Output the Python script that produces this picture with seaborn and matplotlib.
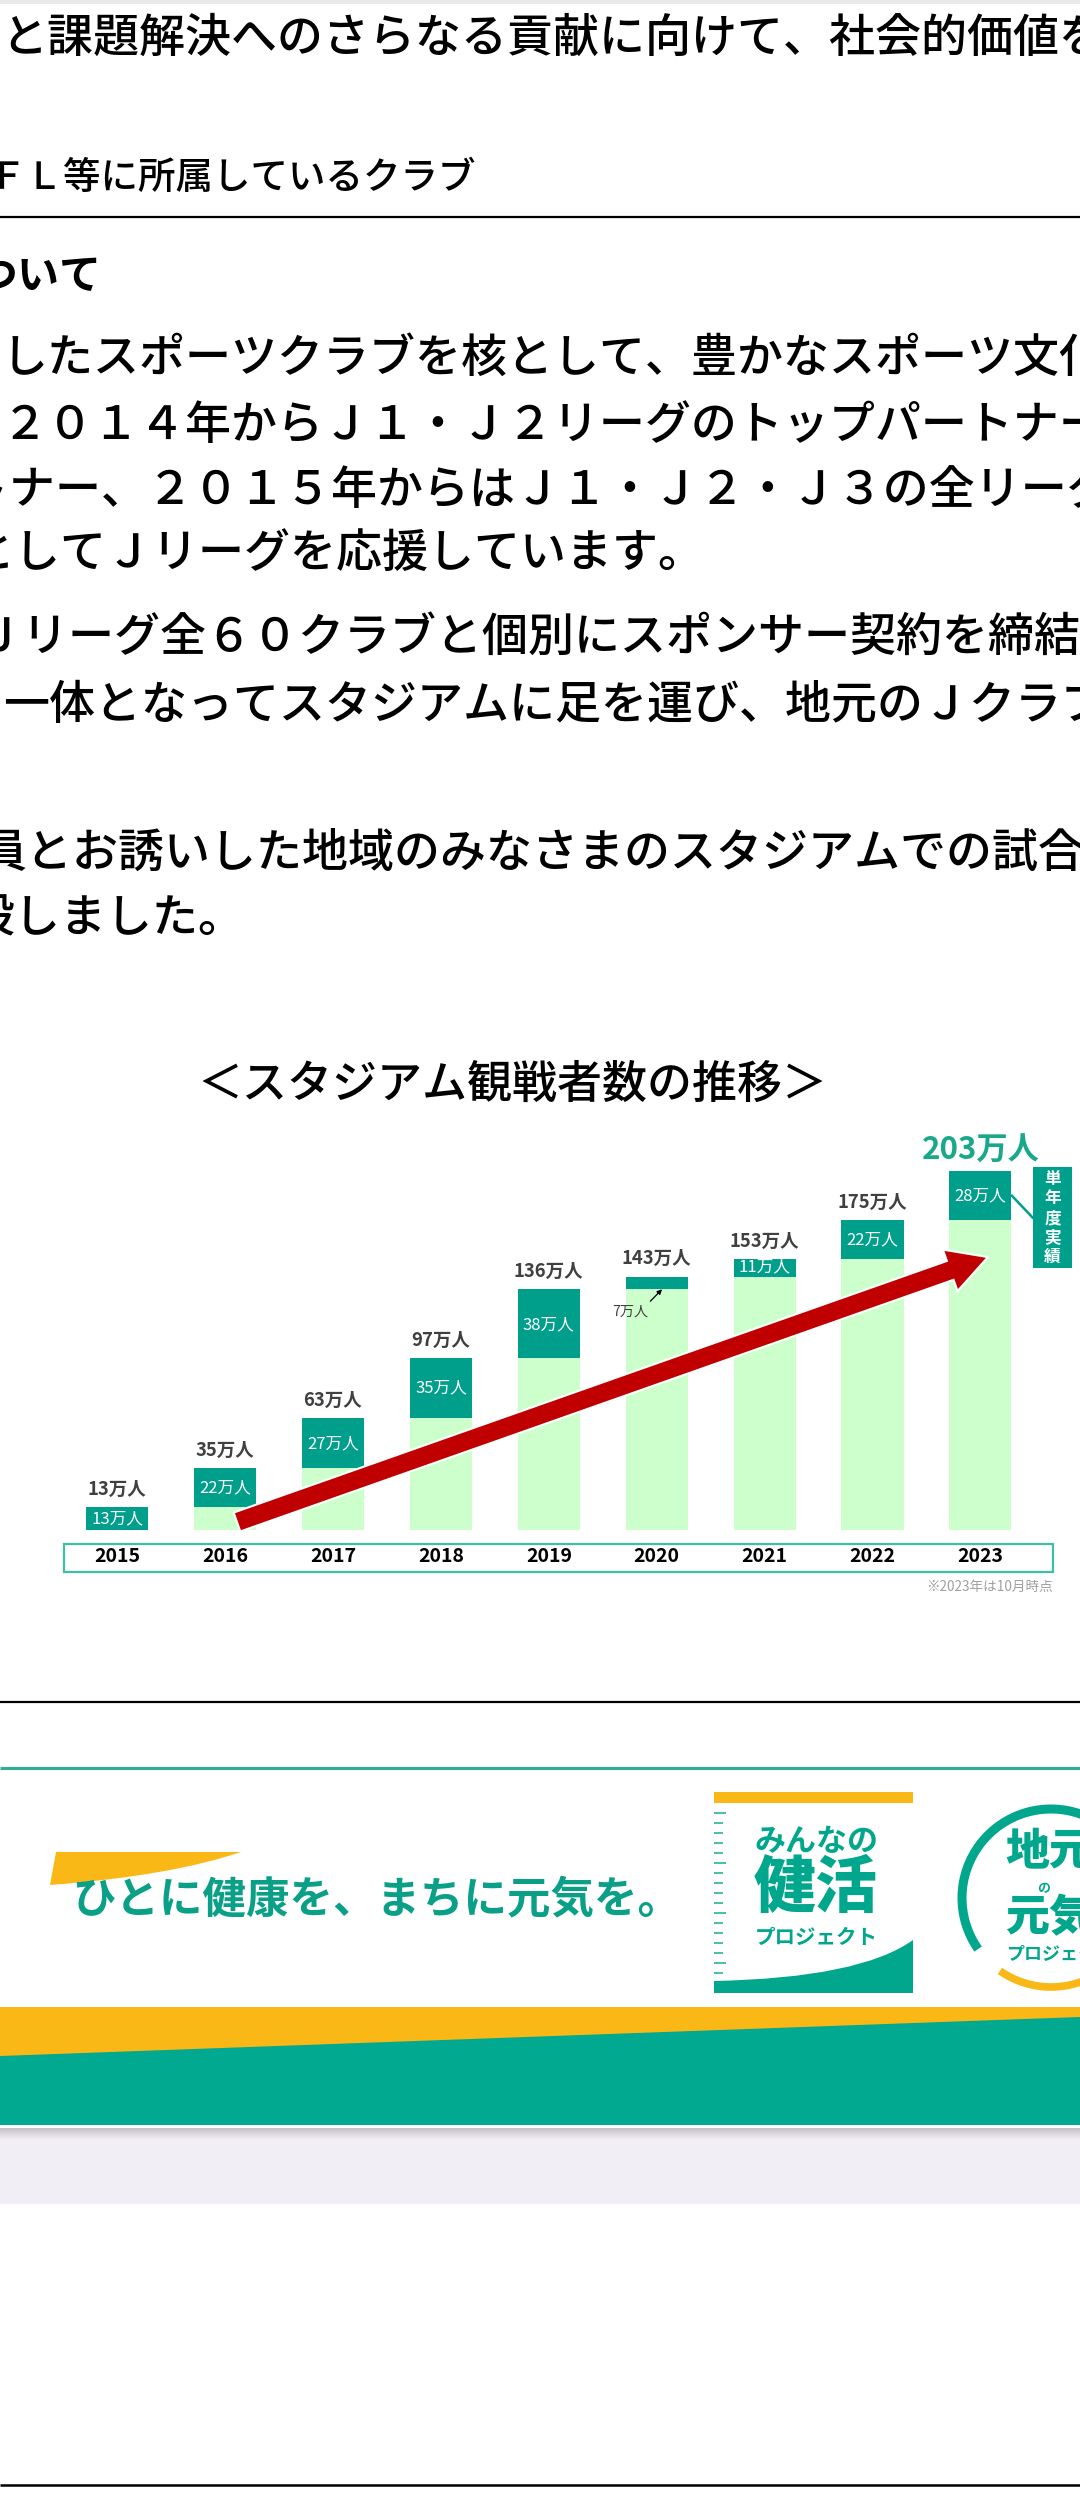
import numpy as np
import pandas as pd
import matplotlib
matplotlib.use("Agg")
import matplotlib.pyplot as plt
import seaborn as sns
from matplotlib.patches import Rectangle, FancyArrow, Arc, PathPatch, Polygon
from matplotlib.path import Path

# ---------------- data ----------------
years = ["2015", "2016", "2017", "2018", "2019", "2020", "2021", "2022", "2023"]
totals = [13, 35, 63, 97, 136, 143, 153, 175, 203]          # cumulative (万人)
increments = [13, 22, 27, 35, 38, 7, 11, 22, 28]             # single-year (万人)
previous = [0, 13, 35, 63, 97, 136, 143, 153, 175]           # cumulative up to previous year
total_labels = ["13万人", "35万人", "63万人", "97万人", "136万人", "143万人", "153万人", "175万人", "203万人"]
inner_labels = ["13万人", "22万人", "27万人", "35万人", "38万人", "", "11万人", "22万人", "28万人"]
small_label = "7万人"
chart_title = "＜スタジアム観戦者数の推移＞"
side_label = "単年度実績"
note_label = "※2023年は10月時点"

body_lines = [
    "と課題解決へのさらなる貢献に向けて、社会的価値を",
    "ＦＬ等に所属しているクラブ",
    "ついて",
    "したスポーツクラブを核として、豊かなスポーツ文化",
    "２０１４年からＪ１・Ｊ２リーグのトップパートナー",
    "パートナー、２０１５年からはＪ１・Ｊ２・Ｊ３の全リーグ",
    "としてＪリーグを応援しています。",
    "Ｊリーグ全６０クラブと個別にスポンサー契約を締結",
    "一体となってスタジアムに足を運び、地元のＪクラブ",
    "員とお誘いした地域のみなさまのスタジアムでの試合",
    "設しました。",
]
slogan = "ひとに健康を、まちに元気を。"
logo1_lines = ["みんなの", "健活", "プロジェクト"]
logo2_lines = ["地元", "の", "元気", "プロジェクト"]

# ---------------- layout (pixels) ----------------
body_x = [1, -12, -24, 2, 2, -128, -32, -24, 3, -20, -32]
body_cy = [35, 175, 274, 355, 422, 487, 550, 634, 702, 850, 915]
body_px = [46, 37.5, 42, 46, 46, 46, 46, 46, 46, 46, 46]
body_w = [500, 500, "bold"] + [500] * 8

DARK = "#009F8B"
LIGHT = "#CCFFCC"
RED = "#C00000"
TEAL = "#00A78D"
YELLOW = "#FAB816"

sns.set_theme(style="white")
plt.rcParams["font.family"] = ["Noto Sans CJK JP", "DejaVu Sans"]

W, H = 1080, 2520
fig = plt.figure(figsize=(W / 100, H / 100), dpi=100)
fig.patch.set_facecolor("white")

pg = fig.add_axes([0, 0, 1, 1])
pg.set_xlim(0, W)
pg.set_ylim(H, 0)
pg.axis("off")


def ptext(axh, x, cy, s, px, **kw):
    axh.text(x, cy + 0.37 * px, s, fontsize=px * 0.72, va="baseline", **kw)


# top faint strip
pg.add_patch(Rectangle((0, 0), W, 4, color="#EAEAEA", lw=0))

# body text
for s, x, cy, px, w in zip(body_lines, body_x, body_cy, body_px, body_w):
    ptext(pg, x, cy, s, px, ha="left", color="black", fontweight=w)

# rules
pg.plot([0, W], [217, 217], color="black", lw=1.6, solid_capstyle="butt")
pg.plot([0, W], [1702, 1702], color="black", lw=1.6, solid_capstyle="butt")
pg.plot([0, W], [2485, 2485], color="black", lw=1.8, solid_capstyle="butt")

# chart title
ptext(pg, 512, 1081, chart_title, 45, ha="center", color="black", fontweight=500)

# year strip box
pg.add_patch(Rectangle((64, 1544), 989, 28, fc="white", ec="#3DBFA5", lw=1.6))
pg.text(1053, 1587, note_label, ha="right", va="center", fontsize=9.8, color="#A0A0A0")

# ---------------- bar chart ----------------
bar_bottom_px, bar_top_px = 1530, 1140
ax = fig.add_axes([64 / W, (H - bar_bottom_px) / H, 989 / W, (bar_bottom_px - bar_top_px) / H])
ax.patch.set_alpha(0)
df = pd.DataFrame({"year": years, "total": totals, "previous": previous})
sns.barplot(data=df, x="year", y="total", color=DARK, saturation=1, width=0.575,
            errorbar=None, linewidth=0, ax=ax)
sns.barplot(data=df, x="year", y="previous", color=LIGHT, saturation=1, width=0.575,
            errorbar=None, linewidth=0, ax=ax)
ax.set_xlim(-0.493, 8.673)
ax.set_ylim(0, (bar_bottom_px - bar_top_px) / 1.77)
for sp in ax.spines.values():
    sp.set_visible(False)
ax.set_xlabel("")
ax.set_ylabel("")
ax.set_yticks([])
ax.tick_params(axis="x", length=0, pad=12, labelsize=14, colors="black")
for lbl in ax.get_xticklabels():
    lbl.set_fontweight("bold")

n = len(years)
for i in range(n):
    if i < n - 1:
        ax.annotate(total_labels[i], (i, totals[i]), xytext=(0, 13), textcoords="offset points",
                    ha="center", va="center", fontsize=13.3, fontweight="bold", color="#404040",
                    annotation_clip=False)
    else:
        ax.annotate(total_labels[i], (i, totals[i]), xytext=(0, 14.5), textcoords="offset points",
                    ha="center", va="center", fontsize=22.5, fontweight="bold", color="#1AA88A",
                    annotation_clip=False)
    if inner_labels[i]:
        ax.text(i, previous[i] + increments[i] / 2, inner_labels[i], ha="center", va="center",
                color="white", fontsize=12)

# 2020 small increment callout
ax.annotate(small_label, xy=(5 + 0.05, previous[5]), xytext=(-23, -16), textcoords="offset points",
            ha="center", va="center", fontsize=10.2, color="#404040",
            arrowprops=dict(arrowstyle="-|>", color="black", lw=0.9, shrinkA=0, shrinkB=0,
                            relpos=(0.95, 0.95), mutation_scale=7),
            annotation_clip=False)

# ---------------- overlay (trend arrow, side label) ----------------
top = fig.add_axes([0, 0, 1, 1])
top.set_xlim(0, W)
top.set_ylim(H, 0)
top.axis("off")
top.patch.set_alpha(0)


def to_page(xd, yd):
    dx, dy = ax.transData.transform((xd, yd))
    return dx, H - dy


x0, y0 = to_page(1.11, 4.5)
x1, y1 = to_page(8.07, 154.2)
top.add_patch(FancyArrow(x0, y0, x1 - x0, y1 - y0, width=20, head_width=44, head_length=40,
                         length_includes_head=True, fc=RED, ec="white", lw=1.5, zorder=5))

# side label box and connector
cx, cy = to_page(n - 1 + 0.29, previous[-1] + increments[-1] / 2)
top.plot([cx, 1033], [cy, 1218], color=DARK, lw=1.8, zorder=4)
top.add_patch(Rectangle((1033, 1167), 39, 101, fc=DARK, ec="none", zorder=4))
top.text(1052.5, 1218, "\n".join(side_label), ha="center", va="center", color="white",
         fontsize=12, fontweight="bold", linespacing=1.12, zorder=6)

# ---------------- banner ----------------
pg.plot([0, W], [1768, 1768], color="#2EAE98", lw=2.2, solid_capstyle="butt")

# yellow swoosh behind slogan
sw = Path([(56, 1852), (241, 1852), (170, 1876), (50, 1885), (56, 1852)],
          [Path.MOVETO, Path.LINETO, Path.CURVE3, Path.CURVE3, Path.CLOSEPOLY])
pg.add_patch(PathPatch(sw, fc=YELLOW, ec="none"))
ptext(pg, 72, 1897, slogan, 43.5, ha="left", color="#0AA088", fontweight="bold")

# logo 1
pg.add_patch(Rectangle((714, 1792), 199, 11, fc=YELLOW, ec="none"))
for k, yy in enumerate(np.arange(1813, 1975, 10)):
    pg.plot([714, 723 if k % 5 else 726], [yy, yy], color="#3DB8A3", lw=1.3, solid_capstyle="butt")
cv = Path([(714, 1993), (714, 1981), (860, 1978), (913, 1940), (913, 1993), (714, 1993)],
          [Path.MOVETO, Path.LINETO, Path.CURVE3, Path.CURVE3, Path.LINETO, Path.CLOSEPOLY])
pg.add_patch(PathPatch(cv, fc=TEAL, ec="none"))
ptext(pg, 816, 1840, logo1_lines[0], 31, ha="center", color=TEAL, fontweight="bold")
ptext(pg, 816, 1884, logo1_lines[1], 62, ha="center", color=TEAL, fontweight="heavy")
ptext(pg, 816, 1936, logo1_lines[2], 20.5, ha="center", color=TEAL, fontweight="bold")

# logo 2 (ring, cut at page edge)
pg.add_patch(Arc((1051, 1898), 178, 178, theta1=145, theta2=290, color=TEAL, lw=6.5))
pg.add_patch(Arc((1051, 1898), 178, 178, theta1=55, theta2=125, color=YELLOW, lw=5.5))
ptext(pg, 1005, 1848, logo2_lines[0], 44, ha="left", color=TEAL, fontweight="heavy")
ptext(pg, 1044, 1887, logo2_lines[1], 13, ha="center", color=TEAL, fontweight="bold")
ptext(pg, 1005, 1915, logo2_lines[2], 44, ha="left", color=TEAL, fontweight="heavy")
ptext(pg, 1006, 1953, logo2_lines[3], 18, ha="left", color=TEAL, fontweight="bold")

# bottom band
pg.add_patch(Rectangle((0, 2007), W, 118, fc=YELLOW, ec="none"))
pg.add_patch(Polygon([(0, 2056), (W, 2017), (W, 2125), (0, 2125)], closed=True, fc="#00A98F", ec="none"))

# grey footer strip with shadow
pg.add_patch(Rectangle((0, 2128), W, 76, fc="#F2EEF5", ec="none"))
c0 = np.array([0.78, 0.76, 0.79])
c1 = np.array([0.949, 0.933, 0.961])
for k in range(12):
    t = k / 11
    pg.add_patch(Rectangle((0, 2128 + k), W, 1.05, fc=tuple(c0 * (1 - t) + c1 * t), ec="none"))

fig.savefig("out.png", dpi=100, facecolor="white")
